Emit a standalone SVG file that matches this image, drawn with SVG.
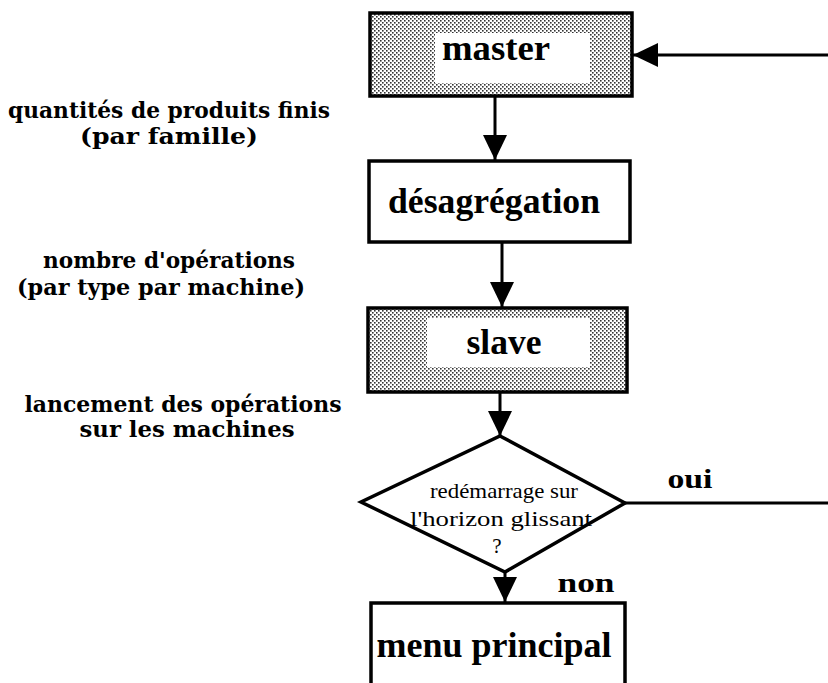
<svg xmlns="http://www.w3.org/2000/svg" width="828" height="683" viewBox="0 0 828 683">
<style>
.box{stroke:#000;stroke-width:3.5}
.lbl{font-family:"DejaVu Serif","Liberation Serif",serif;font-weight:bold;fill:#000;text-anchor:middle}
.bt{font-family:"Liberation Serif","DejaVu Serif",serif;font-weight:bold;fill:#000;text-anchor:middle}
.dt{font-family:"Liberation Serif","DejaVu Serif",serif;fill:#000;text-anchor:middle;font-size:21px}
.ln{stroke:#000;stroke-width:3;fill:none}
</style>
<defs>
<pattern id="stip" width="4" height="4" patternUnits="userSpaceOnUse">
<rect width="4" height="4" fill="#fff"/>
<rect x="0" y="0" width="1.6" height="1.6" fill="#333"/>
<rect x="2" y="2" width="1.6" height="1.6" fill="#333"/>
</pattern>
<marker id="ah" markerUnits="userSpaceOnUse" markerWidth="26" markerHeight="24" refX="25" refY="12" orient="auto">
<path d="M0,0 L25,12 L0,24 Z" fill="#000"/>
</marker>
</defs>
<rect width="828" height="683" fill="#fff"/>

<g id="labels">
<text class="lbl" x="169" y="118" font-size="23" textLength="322" lengthAdjust="spacingAndGlyphs">quantités de produits finis</text>
<text class="lbl" x="169" y="144" font-size="23" textLength="178" lengthAdjust="spacingAndGlyphs">(par  famille)</text>
<text class="lbl" x="169" y="268" font-size="23" textLength="252" lengthAdjust="spacingAndGlyphs">nombre  d'opérations</text>
<text class="lbl" x="161" y="295" font-size="23" textLength="288" lengthAdjust="spacingAndGlyphs">(par type par machine)</text>
<text class="lbl" x="183" y="412" font-size="23" textLength="317" lengthAdjust="spacingAndGlyphs">lancement des opérations</text>
<text class="lbl" x="187" y="437" font-size="23" textLength="215" lengthAdjust="spacingAndGlyphs">sur les machines</text>
</g>

<g id="master">
<rect class="box" x="370" y="13" width="262" height="83" fill="url(#stip)"/>
<rect x="435" y="33" width="155" height="50" fill="#fff"/>
<text class="bt" x="496" y="60" font-size="35" textLength="108" lengthAdjust="spacingAndGlyphs">master</text>
</g>

<g id="desagregation">
<rect class="box" x="369" y="161" width="261" height="81" fill="#fff"/>
<text class="bt" x="494" y="213" font-size="35" textLength="212" lengthAdjust="spacingAndGlyphs">désagrégation</text>
</g>

<g id="slave">
<rect class="box" x="368" y="308" width="259" height="84" fill="url(#stip)"/>
<rect x="427" y="318" width="163" height="49" fill="#fff"/>
<text class="bt" x="504" y="354" font-size="35" textLength="75" lengthAdjust="spacingAndGlyphs">slave</text>
</g>

<g id="decision">
<polygon class="box" points="500,436 625,503 505,572 361,502" fill="#fff"/>
<text class="dt" x="504" y="498" textLength="148" lengthAdjust="spacingAndGlyphs">redémarrage sur</text>
<text class="dt" x="501" y="526" textLength="182" lengthAdjust="spacingAndGlyphs">l'horizon  glissant</text>
<text class="dt" x="497" y="553">?</text>
</g>

<g id="menu">
<rect class="box" x="371" y="603" width="254" height="100" fill="#fff"/>
<text class="bt" x="494" y="657" font-size="35" textLength="235" lengthAdjust="spacingAndGlyphs">menu  principal</text>
</g>

<g id="connectors">
<line class="ln" x1="495" y1="96" x2="495" y2="160" marker-end="url(#ah)"/>
<line class="ln" x1="502" y1="242" x2="502" y2="307" marker-end="url(#ah)"/>
<line class="ln" x1="500" y1="392" x2="500" y2="436" marker-end="url(#ah)"/>
<line class="ln" x1="505" y1="572" x2="505" y2="602" marker-end="url(#ah)"/>
<line class="ln" x1="625" y1="503" x2="828" y2="503"/>
<line class="ln" x1="828" y1="55" x2="633" y2="55" marker-end="url(#ah)"/>
<text class="bt" x="690" y="488" font-size="27" textLength="45" lengthAdjust="spacingAndGlyphs">oui</text>
<text class="bt" x="586" y="592" font-size="28" textLength="57" lengthAdjust="spacingAndGlyphs">non</text>
</g>
</svg>
